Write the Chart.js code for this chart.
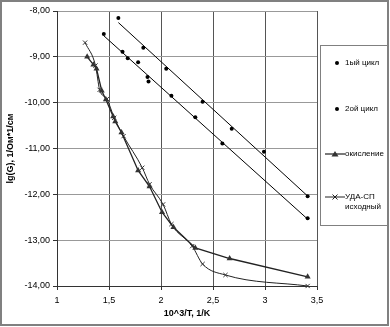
<!DOCTYPE html>
<html>
<head>
<meta charset="utf-8">
<script src="https://cdn.jsdelivr.net/npm/chart.js@4/dist/chart.umd.min.js"></script>
<style>
html,body{margin:0;padding:0;background:#fff;}
#wrap{position:relative;width:390px;height:327px;}
</style>
</head>
<body>
<div id="wrap"><canvas id="c" width="390" height="327"></canvas></div>
<script>
// ---- data ----
const xTicks = [1, 1.5, 2, 2.5, 3, 3.5];
const yTicks = [-14, -13, -12, -11, -10, -9, -8];

const seriesNames = ['1ый цикл', '2ой цикл', 'окисление', ['УДА-СП', 'исходный']];

const cycle1X = [1.59, 1.83, 2.05, 2.40, 2.68, 2.99, 3.41];
const cycle1Y = [-8.15, -8.80, -9.26, -9.98, -10.57, -11.07, -12.04];

const cycle2X = [1.45, 1.63, 1.68, 1.78, 1.87, 1.88, 2.10, 2.33, 2.59, 3.41];
const cycle2Y = [-8.50, -8.89, -9.03, -9.12, -9.44, -9.54, -9.85, -10.32, -10.89, -12.52];

const oxX = [1.29, 1.35, 1.38, 1.43, 1.47, 1.54, 1.56, 1.62, 1.78, 1.89, 2.01, 2.12, 2.33, 2.66, 3.41];
const oxY = [-9.00, -9.17, -9.26, -9.74, -9.93, -10.30, -10.41, -10.65, -11.48, -11.83, -12.39, -12.72, -13.17, -13.40, -13.80];

const udaX = [1.27, 1.37, 1.41, 1.48, 1.55, 1.64, 1.82, 1.89, 2.02, 2.10, 2.30, 2.40, 2.62, 3.41];
const udaY = [-8.69, -9.19, -9.72, -9.92, -10.33, -10.73, -11.42, -11.78, -12.22, -12.65, -13.13, -13.52, -13.76, -14.00];

// ---- helpers ----
function pts(xs, ys) { return xs.map((x, i) => ({x: x, y: ys[i]})); }
function trend(xs, ys) {
  const n = xs.length;
  let sx = 0, sy = 0, sxx = 0, sxy = 0;
  for (let i = 0; i < n; i++) { sx += xs[i]; sy += ys[i]; sxx += xs[i] * xs[i]; sxy += xs[i] * ys[i]; }
  const b = (n * sxy - sx * sy) / (n * sxx - sx * sx);
  const a = (sy - b * sx) / n;
  const x0 = Math.min(...xs), x1 = Math.max(...xs);
  return [{x: x0, y: a + b * x0}, {x: x1, y: a + b * x1}];
}
const comma = v => String(v).replace('.', ',');
const FONT = '"Liberation Sans", Arial, sans-serif';

const legendPlugin = {
  id: 'boxLegend',
  afterDraw(chart) {
    const ctx = chart.ctx;
    ctx.save();
    // outer frame
    ctx.strokeStyle = '#808080';
    ctx.lineWidth = 2;
    ctx.strokeRect(1, 1, 387, 324);
    // legend box
    ctx.lineWidth = 1;
    ctx.strokeStyle = '#808080';
    ctx.strokeRect(320.5, 45.5, 68, 180);
    ctx.font = '8px ' + FONT;
    ctx.fillStyle = '#000';
    ctx.textBaseline = 'middle';
    const tx = 345;
    // 1ый цикл
    ctx.beginPath(); ctx.arc(337, 63, 2, 0, Math.PI * 2); ctx.fillStyle = '#000'; ctx.fill();
    ctx.fillText(seriesNames[0], tx, 63);
    // 2ой цикл
    ctx.beginPath(); ctx.arc(337, 109, 2, 0, Math.PI * 2); ctx.fill();
    ctx.fillText(seriesNames[1], tx, 109);
    // окисление
    ctx.strokeStyle = '#222'; ctx.lineWidth = 1.2;
    ctx.beginPath(); ctx.moveTo(325, 154); ctx.lineTo(345, 154); ctx.stroke();
    ctx.fillStyle = '#333';
    ctx.beginPath(); ctx.moveTo(335, 151); ctx.lineTo(338.5, 156.5); ctx.lineTo(331.5, 156.5); ctx.closePath(); ctx.fill();
    ctx.fillStyle = '#000';
    ctx.fillText(seriesNames[2], tx, 154);
    // УДА-СП
    ctx.strokeStyle = '#222'; ctx.lineWidth = 1;
    ctx.beginPath(); ctx.moveTo(325, 197); ctx.lineTo(345, 197); ctx.stroke();
    ctx.beginPath(); ctx.moveTo(332.5, 194.5); ctx.lineTo(337.5, 199.5); ctx.moveTo(337.5, 194.5); ctx.lineTo(332.5, 199.5); ctx.stroke();
    ctx.fillText(seriesNames[3][0], tx, 197);
    ctx.fillText(seriesNames[3][1], tx, 207);
    ctx.restore();
  }
};

new Chart(document.getElementById('c'), {
  type: 'scatter',
  data: {
    datasets: [
      {label: 'trend1', data: trend(cycle1X, cycle1Y), showLine: true, borderColor: '#000', borderWidth: 1, pointRadius: 0, order: 5},
      {label: 'trend2', data: trend(cycle2X, cycle2Y), showLine: true, borderColor: '#000', borderWidth: 1, pointRadius: 0, order: 5},
      {label: seriesNames[0], data: pts(cycle1X, cycle1Y), showLine: false, pointStyle: 'circle', pointRadius: 2, backgroundColor: '#000', borderColor: '#000', borderWidth: 0, order: 1},
      {label: seriesNames[1], data: pts(cycle2X, cycle2Y), showLine: false, pointStyle: 'circle', pointRadius: 2, backgroundColor: '#000', borderColor: '#000', borderWidth: 0, order: 1},
      {label: seriesNames[2], data: pts(oxX, oxY), showLine: true, borderColor: '#222', borderWidth: 1.3, pointStyle: 'triangle', pointRadius: 3.5, pointBackgroundColor: '#333', pointBorderColor: '#333', pointBorderWidth: 0, order: 2},
      {label: seriesNames[3].join(' '), data: pts(udaX, udaY), showLine: true, cubicInterpolationMode: 'monotone', borderColor: '#222', borderWidth: 1, pointStyle: 'crossRot', pointRadius: 3, pointBorderColor: '#333', pointBorderWidth: 1, order: 3}
    ]
  },
  options: {
    responsive: false,
    animation: false,
    clip: false,
    layout: {padding: {left: 0, top: 11, right: 73, bottom: 0}},
    plugins: {legend: {display: false}, tooltip: {enabled: false}},
    scales: {
      x: {
        type: 'linear', min: 1, max: 3.5,
        afterBuildTicks: s => { s.ticks = xTicks.map(v => ({value: v})); },
        afterFit: s => { s.height = 41; },
        ticks: {callback: v => comma(v), font: {family: FONT, size: 9}, color: '#000', padding: 5, maxRotation: 0},
        grid: {color: '#555', lineWidth: 1, tickLength: 4, tickColor: '#333'},
        border: {color: '#333', width: 1},
        title: {display: true, text: '10^3/T, 1/K', font: {family: FONT, size: 9, weight: 'bold'}, color: '#000', padding: {top: 0, bottom: 8}}
      },
      y: {
        type: 'linear', min: -14, max: -8,
        afterBuildTicks: s => { s.ticks = yTicks.map(v => ({value: v})); },
        afterFit: s => { s.width = 57; },
        ticks: {callback: v => v.toFixed(2).replace('.', ','), font: {family: FONT, size: 9}, color: '#000', padding: 3},
        grid: {color: '#999', lineWidth: 1, tickLength: 4, tickColor: '#333'},
        border: {color: '#333', width: 1},
        title: {display: true, text: 'lg(G), 1/Ом*1/см', font: {family: FONT, size: 9, weight: 'bold'}, color: '#000', padding: {top: 5, bottom: 0}}
      }
    }
  },
  plugins: [legendPlugin]
});
</script>
</body>
</html>
